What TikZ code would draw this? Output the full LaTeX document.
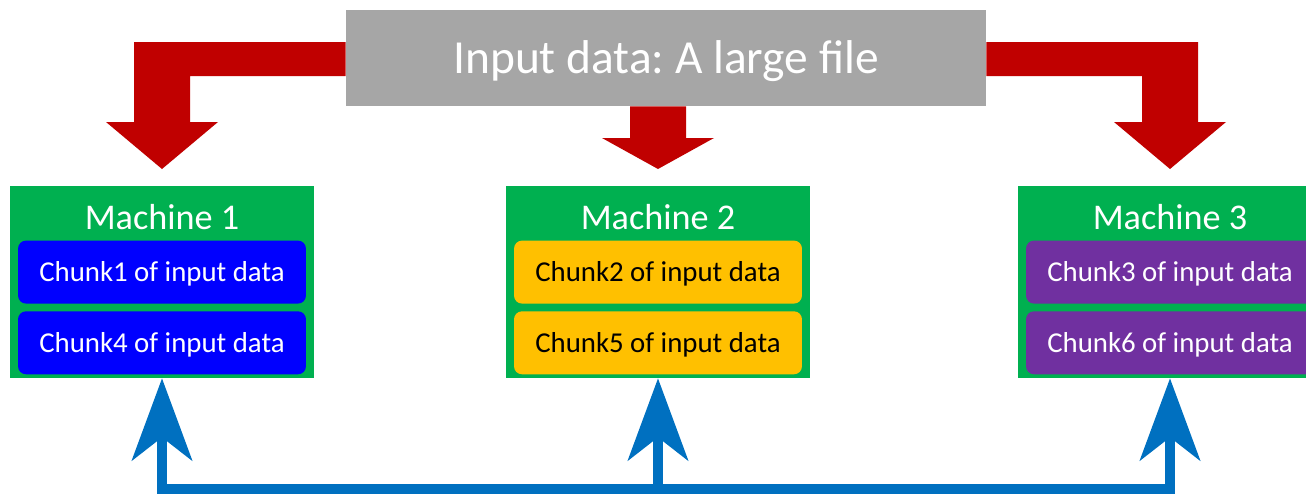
\documentclass[tikz,border=0pt]{standalone}
\usepackage{fontspec}
\setmainfont{Carlito}
\usetikzlibrary{positioning, arrows.meta}
\frenchspacing

\definecolor{boxgray}{HTML}{A6A6A6}
\definecolor{machgreen}{HTML}{00B050}
\definecolor{arrowred}{HTML}{C00000}
\definecolor{busblue}{HTML}{0070C0}
\definecolor{chunkblue}{HTML}{0000FF}
\definecolor{chunkgold}{HTML}{FFC000}
\definecolor{chunkpurple}{HTML}{7030A0}

\tikzset{uptip/.tip={Stealth[length=1.64cm, width=1.2cm, inset=0.46cm]}}

\begin{document}
\begin{tikzpicture}[x=0.02cm, y=-0.02cm,
    inbox/.style={rectangle, fill=boxgray, text=white, minimum width=12.8cm, minimum height=1.92cm, inner sep=0pt, text height=0.614cm, text depth=0pt, font=\fontsize{27}{32}\selectfont},
    machine/.style={rectangle, fill=machgreen, minimum width=6.08cm, minimum height=3.84cm, inner sep=0pt},
    mtitle/.style={text=white, inner sep=0pt, text height=0.468cm, text depth=0pt, font=\fontsize{20.6}{24}\selectfont},
    chunk/.style={rectangle, rounded corners=0.16cm, minimum width=5.76cm, minimum height=1.26cm, inner sep=0pt, text height=0.374cm, text depth=0pt, font=\fontsize{16.4}{20}\selectfont},
    blockarrow/.style={fill=arrowred},
    busline/.style={draw=busblue, line width=0.2cm, line join=miter}]

    \useasboundingbox (0,0) rectangle (1306,494);
    \clip (0,0) rectangle (1306,494);

    \node [inbox] (input) at (666,58) {Input data: A large file};

    % machines
    \node [machine] (m1) at (162,282) {};
    \node [machine] (m2) at (658,282) {};
    \node [machine] (m3) at (1170,282) {};

    \node [mtitle, below=0.41cm of m1.north] (t1) {Machine 1};
    \node [mtitle, below=0.41cm of m2.north] (t2) {Machine 2};
    \node [mtitle, below=0.41cm of m3.north] (t3) {Machine 3};

    \node [chunk, fill=chunkblue, text=white, below=0.2cm of t1] (c1) {Chunk1 of input data};
    \node [chunk, fill=chunkblue, text=white, below=0.14cm of c1] (c4) {Chunk4 of input data};
    \node [chunk, fill=chunkgold, text=black, below=0.2cm of t2] (c2) {Chunk2 of input data};
    \node [chunk, fill=chunkgold, text=black, below=0.14cm of c2] (c5) {Chunk5 of input data};
    \node [chunk, fill=chunkpurple, text=white, below=0.2cm of t3] (c3) {Chunk3 of input data};
    \node [chunk, fill=chunkpurple, text=white, below=0.14cm of c3] (c6) {Chunk6 of input data};

    % red block arrows
    \fill [blockarrow] (input.west |- 0,42) -- (134,42) -- (134,122) -- (106,122) -- (m1.north |- 0,169)
        -- (218,122) -- (190,122) -- (190,76) -- (input.west |- 0,76) -- cycle;
    \fill [blockarrow] (630,0 |- input.south) -- (630,138) -- (602,138) -- (m2.north |- 0,169)
        -- (714,138) -- (686,138) -- (686,0 |- input.south) -- cycle;
    \fill [blockarrow] (input.east |- 0,42) -- (1198,42) -- (1198,122) -- (1226,122) -- (m3.north |- 0,169)
        -- (1114,122) -- (1142,122) -- (1142,76) -- (input.east |- 0,76) -- cycle;

    % blue bus
    \coordinate (bus) at (0,489);
    \draw [busline, uptip-uptip] (m1.south) -- (m1.south |- bus) -- (m3.south |- bus) -- (m3.south);
    \draw [busline, -uptip] (m2.south |- bus) -- (m2.south);
\end{tikzpicture}
\end{document}
